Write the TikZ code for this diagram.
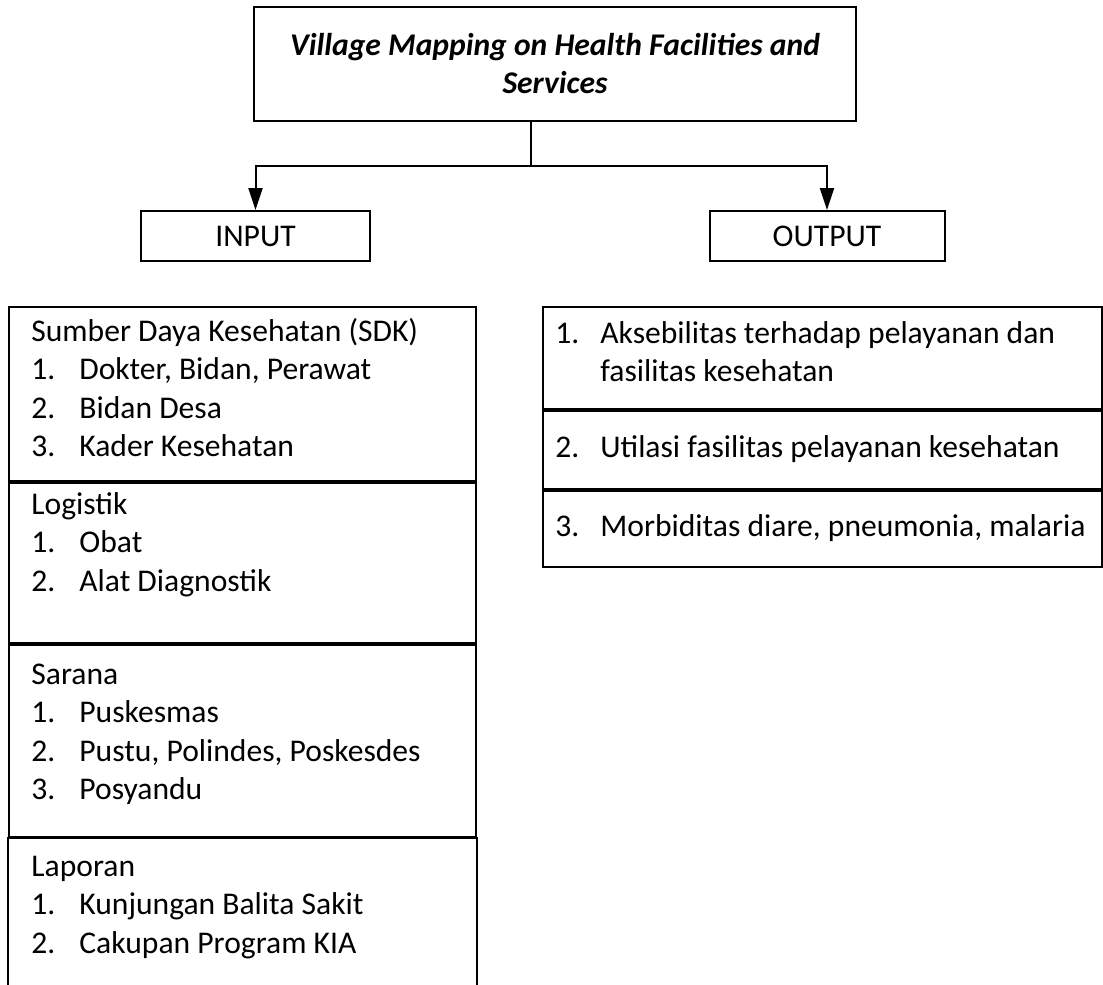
\documentclass[tikz,border=0pt]{standalone}
\usepackage{fontspec}
\setmainfont{Carlito}
\usepackage{array}
\usetikzlibrary{arrows.meta, positioning}

\tikzset{
  frame/.style={draw, line width=1pt, inner sep=0pt},
  listtext/.style={inner sep=0pt, anchor=north west,
                   font=\fontsize{15.8}{19.25}\selectfont},
  rowtext/.style={listtext, anchor=west},
  arrowline/.style={line width=1pt, -{Triangle[length=11pt,width=7pt]}},
}

\begin{document}
\begin{tikzpicture}[x=0.5pt, y=-0.5pt]
  % page size
  \fill[white] (0,0) rectangle (1103,985);
  \useasboundingbox (0,0) rectangle (1103,985);

  % title and the two headers
  \node[frame, minimum width=301pt, minimum height=57pt, align=center,
        font=\fontsize{15.8}{19}\bfseries\itshape\selectfont]
        (title) at (555,64) {Village Mapping on Health Facilities and\\Services};
  \node[frame, minimum width=114.5pt, minimum height=25pt,
        font=\fontsize{15.8}{19}\selectfont] (input) at (255.5,236) {INPUT};
  \node[frame, minimum width=117.5pt, minimum height=25pt,
        font=\fontsize{15.8}{19}\selectfont] (output) at (827,236) {OUTPUT};

  \coordinate (split) at (531,166);
  \draw[line width=1pt] (title.south -| split) -- (split);
  \draw[arrowline] (split) -| (input);
  \draw[arrowline] (split) -| (output);

  % INPUT column
  \node[frame, anchor=north west, minimum width=233.5pt, minimum height=87pt]
        (sdk) at (8,306) {};
  \node[listtext] (sdklist) at ([shift={(23,8)}]sdk.north west) {%
    \begin{tabular}{@{}p{24pt}@{}l@{}}
      \multicolumn{2}{@{}l@{}}{Sumber Daya Kesehatan (SDK)}\\
      1. & Dokter, Bidan, Perawat\\
      2. & Bidan Desa\\
      3. & Kader Kesehatan
    \end{tabular}};

  \node[frame, anchor=north west, minimum width=233.5pt, minimum height=80pt]
        (log) at (sdk.south west) {};
  \node[listtext] (loglist) at ([shift={(23,5)}]log.north west) {%
    \begin{tabular}{@{}p{24pt}@{}l@{}}
      \multicolumn{2}{@{}l@{}}{Logistik}\\
      1. & Obat\\
      2. & Alat Diagnostik
    \end{tabular}};

  \node[frame, anchor=north west, minimum width=233.5pt, minimum height=96pt]
        (sar) at (log.south west) {};
  \node[listtext] (sarlist) at ([shift={(23,13)}]sar.north west) {%
    \begin{tabular}{@{}p{24pt}@{}l@{}}
      \multicolumn{2}{@{}l@{}}{Sarana}\\
      1. & Puskesmas\\
      2. & Pustu, Polindes, Poskesdes\\
      3. & Posyandu
    \end{tabular}};

  \node[frame, draw=none, anchor=north west, minimum width=233.5pt, minimum height=76pt]
        (lap) at (sar.south west) {};
  \draw[line width=1pt] (lap.south west) -- (lap.north west)
                        -- (lap.north east) -- (lap.south east);
  \node[listtext] (laplist) at ([shift={(23,11)}]lap.north west) {%
    \begin{tabular}{@{}p{24pt}@{}l@{}}
      \multicolumn{2}{@{}l@{}}{Laporan}\\
      1. & Kunjungan Balita Sakit\\
      2. & Cakupan Program KIA
    \end{tabular}};

  % OUTPUT column
  \node[frame, anchor=north west, minimum width=279.5pt, minimum height=51pt]
        (akses) at (542,306) {};
  \node[rowtext] (akseslist) at ([shift={(13,-3)}]akses.west) {%
    \begin{tabular}{@{}p{22.5pt}@{}l@{}}
      1. & Aksebilitas terhadap pelayanan dan\\
         & fasilitas kesehatan
    \end{tabular}};

  \node[frame, anchor=north west, minimum width=279.5pt, minimum height=39pt]
        (util) at (akses.south west) {};
  \node[rowtext] (utillist) at ([shift={(13,0)}]util.west) {%
    \begin{tabular}{@{}p{22.5pt}@{}l@{}}
      2. & Utilasi fasilitas pelayanan kesehatan
    \end{tabular}};

  \node[frame, anchor=north west, minimum width=279.5pt, minimum height=38pt]
        (morb) at (util.south west) {};
  \node[rowtext] (morblist) at ([shift={(13,0)}]morb.west) {%
    \begin{tabular}{@{}p{22.5pt}@{}l@{}}
      3. & Morbiditas diare, pneumonia, malaria
    \end{tabular}};
\end{tikzpicture}
\end{document}
